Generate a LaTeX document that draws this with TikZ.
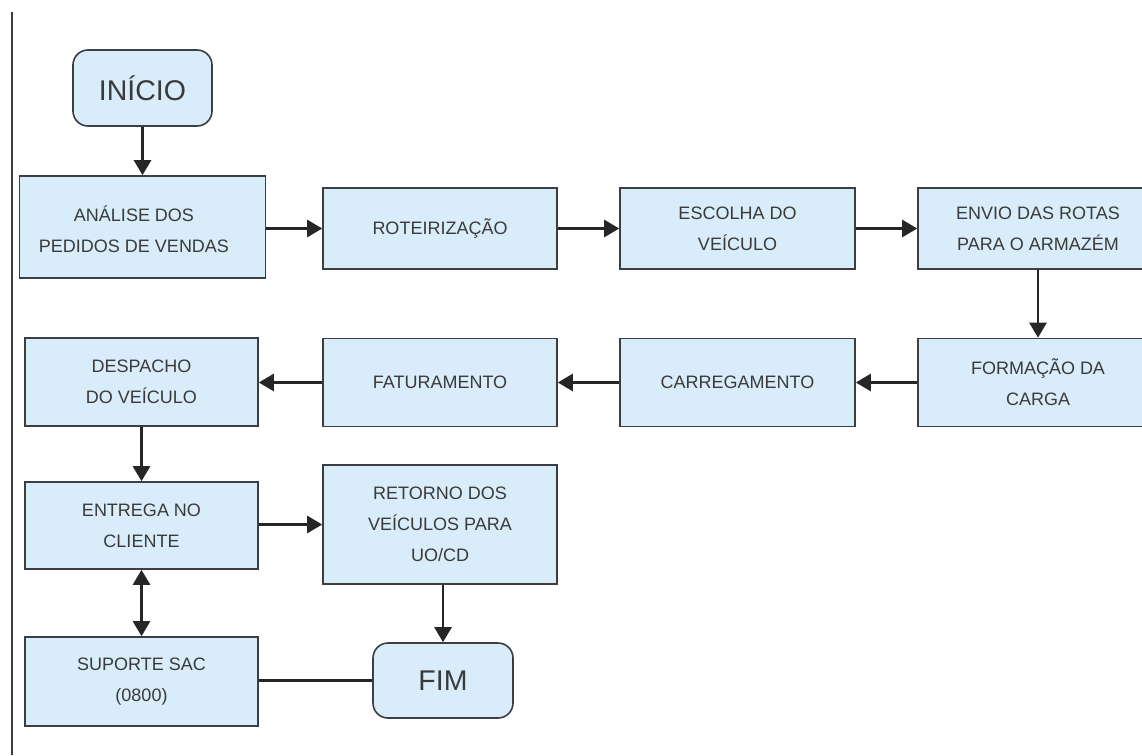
\documentclass[tikz,border=0pt]{standalone}
\usepackage{fontspec}
\setmainfont{Liberation Sans}
\usetikzlibrary{arrows.meta}
\definecolor{boxfill}{HTML}{D8EDF9}
\definecolor{boxline}{HTML}{3C3F42}
\definecolor{txt}{HTML}{3A3A3A}
\tikzset{
  stepbox/.style={draw=boxline, fill=boxfill, line width=1.6pt, align=center,
    inner sep=0pt, text=txt, font=\fontsize{18}{31}\selectfont},
  termbox/.style={stepbox, rounded corners=15pt, font=\fontsize{28.5}{32}\selectfont},
  arr/.style={draw=black!85, line width=2.6pt, -{Triangle[length=15pt,width=17pt]}},
  biarr/.style={draw=black!85, line width=2.6pt, {Triangle[length=15pt,width=17pt]}-{Triangle[length=15pt,width=17pt]}},
  plain/.style={draw=black!85, line width=2.6pt}
}
\begin{document}
\begin{tikzpicture}[x=1pt,y=-1pt]
\useasboundingbox[fill=white] (0,0) rectangle (1142,755);
\clip (0,0) rectangle (1142,755);
\coordinate (vtop) at (12,12);
\coordinate (vbot) at (12,755);
\draw[boxline, line width=2pt] (vtop) -- (vbot);

\node[termbox, minimum width=139pt, minimum height=76pt] (ini) at (142.5,88) {INÍCIO};
\node[stepbox, minimum width=246pt, minimum height=102pt] (ana) at (142.5,227) {};
\node[text=txt, font=\fontsize{18}{31}\selectfont, align=center, inner sep=0pt] (anat) at (134,229) {ANÁLISE DOS\\PEDIDOS DE VENDAS};
\node[stepbox, minimum width=234pt, minimum height=81pt] (rot) at (440,228.5) {ROTEIRIZAÇÃO};
\node[stepbox, minimum width=235pt, minimum height=81pt] (esc) at (737.5,228.5) {ESCOLHA DO\\VEÍCULO};
\node[stepbox, minimum width=240pt, minimum height=81pt] (env) at (1038,228.5) {ENVIO DAS ROTAS\\PARA O ARMAZÉM};
\node[stepbox, minimum width=240pt, minimum height=88pt] (for) at (1038,382.5) {FORMAÇÃO DA\\CARGA};
\node[stepbox, minimum width=235pt, minimum height=88pt] (car) at (737.5,382.5) {CARREGAMENTO};
\node[stepbox, minimum width=234pt, minimum height=88pt] (fat) at (440,382.5) {FATURAMENTO};
\node[stepbox, minimum width=233pt, minimum height=88pt] (des) at (141.5,382) {DESPACHO\\DO VEÍCULO};
\node[stepbox, minimum width=233pt, minimum height=87pt] (ent) at (141.5,525.5) {ENTREGA NO\\CLIENTE};
\node[stepbox, minimum width=234pt, minimum height=119pt] (ret) at (440,524.5) {RETORNO DOS\\VEÍCULOS PARA\\UO/CD};
\node[termbox, minimum width=140pt, minimum height=75pt] (fim) at (443,680.5) {FIM};
\node[stepbox, minimum width=233pt, minimum height=89pt] (sup) at (141.5,681.5) {SUPORTE SAC\\(0800)};

\draw[arr] (ini.south) -- (ini.south|-ana.north);
\draw[arr] (ana.east|-rot.west) -- (rot.west);
\draw[arr] (rot.east) -- (esc.west);
\draw[arr] (esc.east) -- (env.west);
\draw[arr] (env.south) -- (for.north);
\draw[arr] (for.west) -- (car.east);
\draw[arr] (car.west) -- (fat.east);
\draw[arr] (fat.west) -- (des.east|-fat.west);
\draw[arr] (des.south) -- (ent.north);
\draw[arr] (ent.east|-ret.west) -- (ret.west);
\draw[arr] (ret.south-|fim.north) -- (fim.north);
\draw[biarr] (ent.south) -- (sup.north);
\draw[plain] (sup.east|-fim.west) -- (fim.west);
\end{tikzpicture}
\end{document}
